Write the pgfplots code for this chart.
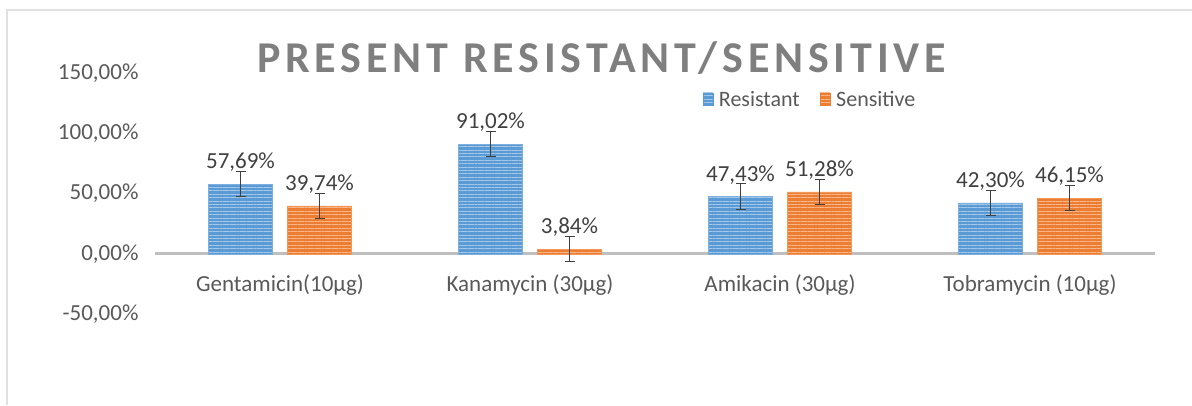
\documentclass[border=0pt]{standalone}
\usepackage{fontspec}
\setmainfont{Carlito}
\newfontfamily\titlefont[LetterSpace=11]{Carlito}
\usepackage{pgfplots}
\usepackage{pgfplotstable}
\pgfplotsset{compat=1.18}
\usetikzlibrary{patterns.meta}
\definecolor{cblue}{HTML}{5B9BD5}
\definecolor{corange}{HTML}{ED7D31}
\definecolor{txt}{HTML}{595959}
\definecolor{lbl}{HTML}{404040}
\definecolor{ttl}{HTML}{7F7F7F}

\pgfplotstableread{
x y err
0 57.69 10.5
1 91.02 10.5
2 47.43 10.5
3 42.30 10.5
}\resistant
\pgfplotstableread{
x y err
0 39.74 10.5
1 3.84 10.5
2 51.28 10.5
3 46.15 10.5
}\sensitive

\begin{document}
\begin{tikzpicture}
\path[use as bounding box] (0pt,0pt) rectangle (1192pt,405pt);
\draw[black!12, line width=1.2pt] (7pt,0pt) -- (7pt,395pt) -- (1192pt,395pt);
\node[anchor=base, text=ttl, font=\titlefont\bfseries\fontsize{44}{50}\selectfont, inner sep=0pt] at (601.5pt,332pt) {PRESENT RESISTANT/SENSITIVE};
\begin{axis}[
  at={(155pt,91pt)}, anchor=south west, scale only axis,
  width=1000pt, height=241pt,
  xmin=-0.5, xmax=3.5, ymin=-50, ymax=150,
  axis line style={draw=none},
  major tick length=0pt,
  ybar=15pt, bar width=64pt,
  clip=false,
  /pgf/number format/assume math mode=true,
  xtick={0,1,2,3},
  xticklabels={Gentamicin(10µg), Kanamycin (30µg), Amikacin (30µg), Tobramycin (10µg)},
  xticklabel style={anchor=base, yshift=23pt, text=txt, font=\fontsize{23}{27}\selectfont},
  ytick={-50,0,50,100,150},
  yticklabels={{-50,00\%}, {0,00\%}, {50,00\%}, {100,00\%}, {150,00\%}},
  yticklabel style={anchor=east, xshift=-13pt, text=txt, font=\fontsize{23}{27}\selectfont},
  nodes near coords={\pgfmathprintnumber[fixed,fixed zerofill,precision=2,use comma,assume math mode=true]{\pgfplotspointmeta}\%},
  every node near coord/.append style={anchor=south, yshift=9pt, text=lbl, font=\fontsize{23}{27}\selectfont},
  error bars/y dir=both, error bars/y explicit,
  error bars/error bar style={draw=lbl, line width=0.9pt},
  error bars/error mark options={rotate=90, mark size=5pt, line width=0.9pt, draw=lbl},
  legend columns=2,
  legend style={at={(0.655,0.888)}, anchor=center, draw=none, fill=none,
    font=\fontsize{22}{26}\selectfont, text=txt,
    /tikz/every odd column/.append style={column sep=4pt},
    /tikz/every even column/.append style={column sep=18pt}},
]
\draw[draw=black!25, line width=3pt] (axis cs:-0.5,0) -- (axis cs:3.5,0);
\addplot[fill=cblue, draw=cblue!80!white,
  postaction={pattern={Lines[angle=0,distance=3.4pt,line width=0.9pt]}, pattern color=white!45!cblue},
  legend image code/.code={\fill[cblue] (0pt,-5pt) rectangle (10pt,7pt);}]
  table[x=x, y=y, y error=err] {\resistant};
\addplot[fill=corange, draw=corange!80!white,
  postaction={pattern={Lines[angle=0,distance=3.4pt,line width=0.9pt]}, pattern color=white!45!corange},
  legend image code/.code={\fill[corange] (0pt,-5pt) rectangle (10pt,7pt);}]
  table[x=x, y=y, y error=err] {\sensitive};
\legend{Resistant, Sensitive}
\end{axis}
\end{tikzpicture}
\end{document}
